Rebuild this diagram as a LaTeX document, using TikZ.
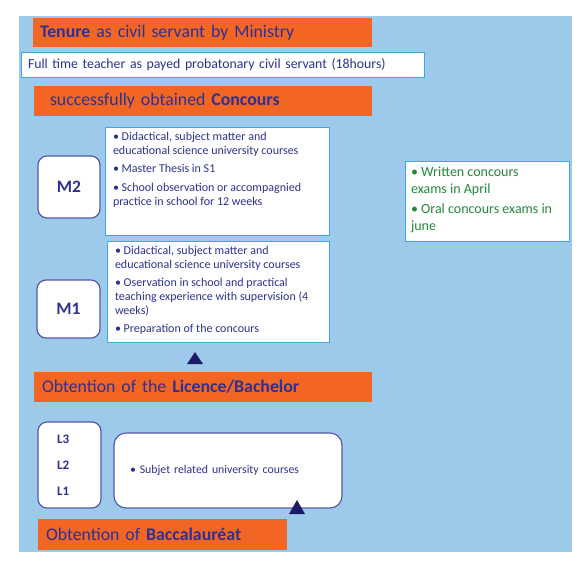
\documentclass[tikz,border=0pt]{standalone}
\usepackage{fontspec}
\setmainfont{Carlito}

\definecolor{ink}{HTML}{2E3192}
\definecolor{barorange}{HTML}{F26522}
\definecolor{panelblue}{HTML}{9DC9EB}
\definecolor{frameblue}{HTML}{3BA9DF}
\definecolor{roundframe}{HTML}{5558A8}
\definecolor{examgreen}{HTML}{23883A}
\definecolor{marknavy}{HTML}{1C1C66}

\begin{document}
\begin{tikzpicture}[
  x=1pt, y=-1pt,
  every node/.style={anchor=north west, inner sep=0pt, outer sep=0pt, text=ink},
  stage/.style={fill=barorange, align=left, minimum height=30pt, font=\fontsize{17.8}{20}\selectfont},
  plainbox/.style={draw=frameblue, line width=1pt, fill=white, align=left, font=\fontsize{13.8}{15}\selectfont},
  txtbox/.style={draw=frameblue, line width=1pt, fill=white, inner xsep=8pt, inner ysep=6pt, font=\fontsize{12}{13.8}\selectfont},
  yearbox/.style={draw=roundframe, line width=1.2pt, fill=white, rounded corners=9pt, font=\bfseries\fontsize{17.5}{20}\selectfont},
  uptri/.style={fill=marknavy}
]

% =======================
% Frame
% =======================
\fill[white] (0,0) rectangle (588,566);
\useasboundingbox (0,0) rectangle (588,566);
\fill[panelblue] (19,16) rectangle (572,552);

% =======================
% Civil servant / Concours
% =======================
\node[stage, minimum height=29pt, inner xsep=7pt, text width=325pt] (tenure) at (33,18)
  {\textbf{Tenure} as civil servant by Ministry};
\node[plainbox, minimum height=25pt, inner xsep=7pt, text width=389pt] (fulltime) at (21,52)
  {Full time teacher as payed probatonary civil servant (18hours)};
\node[stage, inner xsep=16pt, text width=306pt] (concours) at (34,86)
  {successfully obtained \textbf{Concours}};

% =======================
% Master years
% =======================
\node[txtbox, inner ysep=5.5pt] (m2txt) at (105,127) {\parbox[t][97pt][t]{208pt}{\raggedright
  \textbullet\ Didactical, subject matter and\\
  educational science university courses\\[4.5pt]
  \textbullet\ Master Thesis in S1\\[4.5pt]
  \textbullet\ School observation or accompagnied\\
  practice in school for 12 weeks}};
\node[yearbox, minimum width=62pt, minimum height=62pt, anchor=center] (m2) at (69,187) {M2};

\node[txtbox, inner ysep=5.5pt] (m1txt) at (107,241) {\parbox[t][90pt][t]{206pt}{\raggedright
  \textbullet\ Didactical, subject matter and\\
  educational science university courses\\[4.5pt]
  \textbullet\ Oservation in school and practical\\
  teaching experience with supervision (4\\
  weeks)\\[4.5pt]
  \textbullet\ Preparation of the concours}};
\node[yearbox, minimum width=63pt, minimum height=58pt, anchor=center] (m1) at (68.5,309) {M1};

\node[txtbox, text=examgreen, inner xsep=6pt, inner ysep=5.5pt,
  font=\fontsize{14}{17}\selectfont] (exams) at (405,161) {\parbox[t][69pt][t]{152pt}{\raggedright
  \textbullet\ Written concours\\
  exams in April\\[3pt]
  \textbullet\ Oral concours exams in\\
  june}};

\fill[uptri] (187,364) -- (195,352) -- (203,364) -- cycle;

% =======================
% Licence years
% =======================
\node[stage, inner xsep=8pt, text width=322pt] (licence) at (34,372)
  {Obtention of the \textbf{Licence/Bachelor}};

\node[yearbox, minimum height=86pt, inner xsep=19pt, text width=25pt, align=left,
  font=\bfseries\fontsize{13}{26}\selectfont] (lyears) at (38,422) {L3\\L2\\L1};
\node[yearbox, rounded corners=12pt, minimum height=75pt, inner xsep=16pt, text width=196pt,
  align=left, font=\fontsize{11.8}{13.7}\selectfont] (ltxt) at (114,433)
  {\textbullet\ Subjet related university courses};

\fill[uptri] (289,514) -- (297,500) -- (305,514) -- cycle;

\node[stage, minimum height=31pt, inner xsep=8pt, text width=233pt] (bacc) at (38,519)
  {Obtention of \textbf{Baccalauréat}};

\end{tikzpicture}
\end{document}
